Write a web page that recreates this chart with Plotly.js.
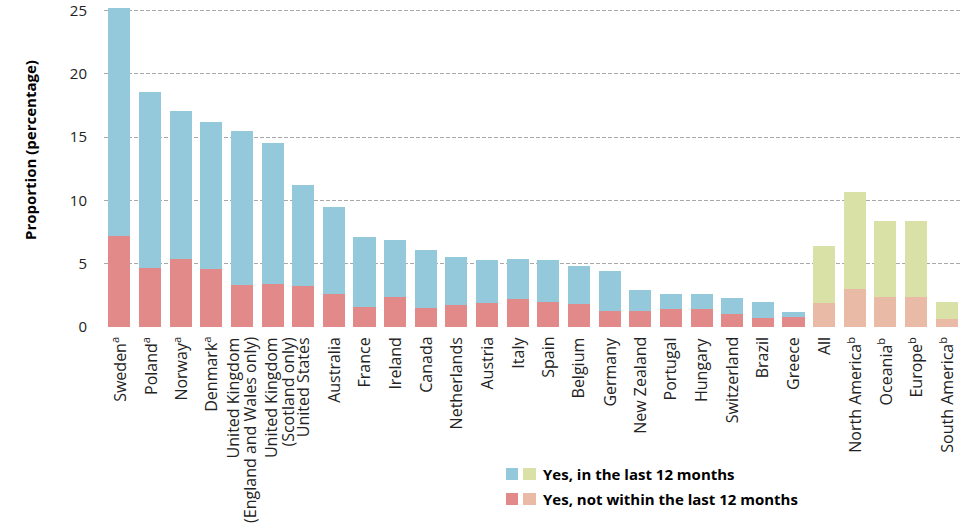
<!DOCTYPE html>
<html>
<head>
<meta charset="utf-8">
<script src="https://cdn.plot.ly/plotly-3.0.1.min.js"></script>
<style>html,body{margin:0;padding:0;background:#fff;}#chart{width:969px;height:525px;}</style>
</head>
<body>
<div id="chart"></div>
<script>
// ---- Data ----
var categories = [
  "Sweden<sup>a</sup>", "Poland<sup>a</sup>", "Norway<sup>a</sup>", "Denmark<sup>a</sup>",
  "United Kingdom<br>(England and Wales only)", "United Kingdom<br>(Scotland only)",
  "United States", "Australia", "France", "Ireland", "Canada", "Netherlands", "Austria",
  "Italy", "Spain", "Belgium", "Germany", "New Zealand", "Portugal", "Hungary",
  "Switzerland", "Brazil", "Greece", "All", "North America<sup>b</sup>",
  "Oceania<sup>b</sup>", "Europe<sup>b</sup>", "South America<sup>b</sup>"
];
// "Yes, not within the last 12 months" (bottom segment)
var notWithin12 = [7.2, 4.7, 5.4, 4.6, 3.3, 3.4, 3.2, 2.6, 1.6, 2.4, 1.5, 1.7, 1.9,
  2.2, 2.0, 1.8, 1.3, 1.3, 1.4, 1.4, 1.0, 0.7, 0.8, 1.9, 3.0, 2.4, 2.4, 0.6];
// "Yes, in the last 12 months" (top segment)
var inLast12 = [18.0, 13.9, 11.7, 11.6, 12.2, 11.1, 8.0, 6.9, 5.5, 4.5, 4.6, 3.8, 3.4,
  3.2, 3.3, 3.0, 3.1, 1.6, 1.2, 1.2, 1.3, 1.3, 0.4, 4.5, 7.7, 6.0, 6.0, 1.4];
var isRegion = [0,0,0,0,0,0,0,0,0,0,0,0,0,0,0,0,0,0,0,0,0,0,0,1,1,1,1,1];
var yTicks = [0, 5, 10, 15, 20, 25];
var legendLabels = ["Yes, in the last 12 months", "Yes, not within the last 12 months"];

// ---- Styles ----
var BLUE = "#93C9DA", GREEN = "#DAE1A7", RED = "#E2898A", PEACH = "#E9BBA7";
var FONT = "Open Sans, sans-serif";
var topColors = isRegion.map(function (r) { return r ? GREEN : BLUE; });
var botColors = isRegion.map(function (r) { return r ? PEACH : RED; });

var W = 969, H = 525, ML = 104, MR = 7, MT = 8, MB = 198;
var PW = W - ML - MR, PH = H - MT - MB;
function px(x) { return (x - ML) / PW; }
function py(y) { return (H - MB - y) / PH; }

var traces = [
  { type: "bar", x: categories, y: notWithin12, name: legendLabels[1],
    marker: { color: botColors }, showlegend: false, hoverinfo: "x+y" },
  { type: "bar", x: categories, y: inLast12, name: legendLabels[0],
    marker: { color: topColors }, showlegend: false, hoverinfo: "x+y" }
];

var shapes = [];
var annotations = [];

// category labels (one annotation per text line so the line spacing is tight)
var LINE_GAP = 16;
categories.forEach(function (cat, k) {
  var lines = cat.split("<br>");
  var base = (k === 5) ? 7 : 0; // second two-line label sits a little right, as in the source
  lines.forEach(function (ln, i) {
    annotations.push({
      xref: "x", yref: "paper", x: cat, y: py(335),
      xanchor: "center", yanchor: "top", textangle: -90, showarrow: false,
      xshift: base + (i - (lines.length - 1) / 2) * LINE_GAP,
      text: ln, font: { family: FONT, size: 16, color: "#222" }
    });
  });
});

// legend (two swatches per row)
var rows = [{ y0: 468, y1: 480, c: [BLUE, GREEN], label: legendLabels[0], ty: 474 },
            { y0: 493, y1: 505, c: [RED, PEACH], label: legendLabels[1], ty: 499 }];
rows.forEach(function (r) {
  [[506, 518], [523, 536]].forEach(function (xx, i) {
    shapes.push({ type: "rect", xref: "paper", yref: "paper",
      x0: px(xx[0]), x1: px(xx[1]), y0: py(r.y1), y1: py(r.y0),
      fillcolor: r.c[i], line: { width: 0 } });
  });
  annotations.push({ xref: "paper", yref: "paper", x: px(541), y: py(r.ty),
    xanchor: "left", yanchor: "middle", showarrow: false,
    text: "<b>" + r.label + "</b>",
    font: { family: FONT, size: 15, color: "#000" } });
});
annotations.push({ xref: "paper", yref: "paper", x: px(30), y: py(150),
  xanchor: "center", yanchor: "middle", showarrow: false, textangle: -90,
  text: "<b>Proportion (percentage)</b>",
  font: { family: FONT, size: 15, color: "#000" } });

var layout = {
  width: W, height: H,
  margin: { l: ML, r: MR, t: MT, b: MB, pad: 0 },
  paper_bgcolor: "#fff", plot_bgcolor: "#fff",
  barmode: "stack", bargap: 0.28,
  showlegend: false,
  font: { family: FONT, size: 15, color: "#222" },
  xaxis: {
    type: "category", categoryarray: categories, categoryorder: "array",
    showgrid: false, zeroline: false, showline: false, ticks: "",
    showticklabels: false, automargin: false
  },
  yaxis: {
    range: [0, 25.2], tickvals: yTicks, ticktext: yTicks.map(String),
    showgrid: true, gridcolor: "#A8A8A8", gridwidth: 1, griddash: "4px,2px",
    zeroline: false, showline: false, ticks: "", ticklabelstandoff: 16,
    ticklabeloverflow: "allow",
    tickfont: { family: FONT, size: 15, color: "#222" }, automargin: false
  },
  shapes: shapes,
  annotations: annotations
};

Plotly.newPlot("chart", traces, layout, { displayModeBar: false, staticPlot: true });
</script>
</body>
</html>
